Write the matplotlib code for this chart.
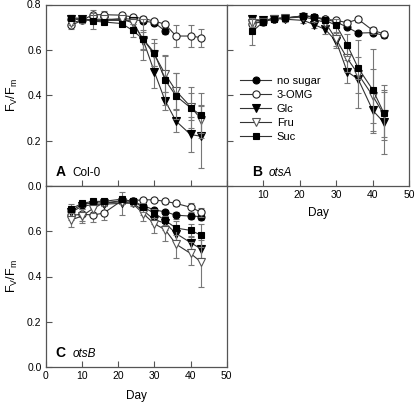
import numpy as np
import matplotlib
matplotlib.use("Agg")
import matplotlib.pyplot as plt
from matplotlib.lines import Line2D

plt.rcParams['font.family'] = ['Liberation Sans', 'DejaVu Sans']
plt.rcParams['mathtext.fontset'] = 'custom'
plt.rcParams['mathtext.rm'] = 'Liberation Sans'

nan = np.nan
days = [7, 10, 13, 16, 21, 24, 27, 30, 33, 36, 40, 43]
series = ["no sugar", "3-OMG", "Glc", "Fru", "Suc"]

# Panel A: Col-0
A_nosugar = [0.735, 0.735, 0.73, 0.73, 0.738, 0.735, 0.727, 0.72, 0.683, nan, nan, nan]
A_omg     = [0.708, 0.73, 0.755, 0.755, 0.753, 0.745, 0.738, 0.727, 0.713, 0.661, 0.661, 0.654]
A_glc     = [0.735, 0.735, 0.73, 0.73, 0.73, 0.728, 0.64, 0.504, 0.375, 0.286, 0.227, 0.219]
A_fru     = [0.72, 0.73, 0.735, 0.735, 0.735, 0.72, 0.645, 0.58, 0.493, 0.419, 0.35, 0.293]
A_suc     = [0.742, 0.738, 0.727, 0.723, 0.716, 0.686, 0.646, 0.587, 0.467, 0.397, 0.345, 0.311]
A_nosugar_err = [0.01, 0.01, 0.01, 0.01, 0.01, 0.01, 0.01, 0.01, 0.015, nan, nan, nan]
A_omg_err     = [0.015, 0.01, 0.02, 0.015, 0.01, 0.01, 0.01, 0.01, 0.01, 0.05, 0.05, 0.04]
A_glc_err     = [0.01, 0.01, 0.01, 0.01, 0.01, 0.015, 0.04, 0.07, 0.04, 0.05, 0.075, 0.14]
A_fru_err     = [0.01, 0.01, 0.01, 0.01, 0.01, 0.02, 0.09, 0.05, 0.08, 0.08, 0.06, 0.06]
A_suc_err     = [0.01, 0.01, 0.035, 0.01, 0.01, 0.03, 0.04, 0.06, 0.11, 0.1, 0.09, 0.1]

# Panel B: otsA
B_nosugar = [0.73, 0.73, 0.738, 0.74, 0.75, 0.745, 0.735, 0.723, 0.70, 0.674, 0.676, 0.664]
B_omg     = [0.715, 0.725, 0.738, 0.74, 0.75, 0.745, 0.735, 0.73, 0.72, 0.735, 0.686, 0.671]
B_glc     = [0.735, 0.73, 0.738, 0.735, 0.73, 0.711, 0.69, 0.637, 0.504, 0.471, 0.333, 0.281]
B_fru     = [0.72, 0.725, 0.738, 0.74, 0.745, 0.735, 0.72, 0.646, 0.563, 0.493, 0.397, 0.316]
B_suc     = [0.681, 0.723, 0.738, 0.74, 0.75, 0.745, 0.73, 0.708, 0.622, 0.52, 0.424, 0.323]
B_nosugar_err = [0.01, 0.01, 0.01, 0.01, 0.01, 0.01, 0.01, 0.01, 0.01, 0.01, 0.01, 0.01]
B_omg_err     = [0.02, 0.015, 0.01, 0.01, 0.01, 0.01, 0.01, 0.01, 0.01, 0.01, 0.015, 0.01]
B_glc_err     = [0.01, 0.01, 0.01, 0.01, 0.01, 0.015, 0.02, 0.03, 0.05, 0.06, 0.1, 0.14]
B_fru_err     = [0.02, 0.01, 0.01, 0.01, 0.01, 0.01, 0.01, 0.03, 0.06, 0.15, 0.12, 0.1]
B_suc_err     = [0.06, 0.01, 0.01, 0.01, 0.01, 0.01, 0.01, 0.03, 0.05, 0.05, 0.18, 0.12]

# Panel C: otsB
C_nosugar = [0.69, 0.718, 0.726, 0.725, 0.735, 0.732, 0.713, 0.694, 0.686, 0.671, 0.667, 0.665]
C_omg     = [0.67, 0.675, 0.672, 0.68, 0.735, 0.735, 0.739, 0.739, 0.732, 0.723, 0.706, 0.684]
C_glc     = [0.684, 0.71, 0.718, 0.72, 0.723, 0.725, 0.691, 0.651, 0.636, 0.59, 0.55, 0.521]
C_fru     = [0.65, 0.667, 0.70, 0.725, 0.73, 0.723, 0.677, 0.633, 0.607, 0.543, 0.502, 0.463]
C_suc     = [0.699, 0.723, 0.732, 0.732, 0.742, 0.732, 0.706, 0.68, 0.648, 0.614, 0.604, 0.582]
C_nosugar_err = [0.015, 0.01, 0.01, 0.01, 0.01, 0.01, 0.01, 0.01, 0.01, 0.015, 0.015, 0.015]
C_omg_err     = [0.02, 0.03, 0.03, 0.03, 0.01, 0.01, 0.01, 0.01, 0.01, 0.01, 0.02, 0.02]
C_glc_err     = [0.02, 0.01, 0.01, 0.01, 0.05, 0.01, 0.02, 0.02, 0.03, 0.03, 0.03, 0.04]
C_fru_err     = [0.03, 0.03, 0.02, 0.01, 0.01, 0.01, 0.03, 0.04, 0.05, 0.06, 0.05, 0.11]
C_suc_err     = [0.02, 0.01, 0.01, 0.01, 0.01, 0.01, 0.02, 0.02, 0.02, 0.03, 0.03, 0.05]

panels = {
    "A": ([A_nosugar, A_omg, A_glc, A_fru, A_suc],
          [A_nosugar_err, A_omg_err, A_glc_err, A_fru_err, A_suc_err], "Col-0", False),
    "B": ([B_nosugar, B_omg, B_glc, B_fru, B_suc],
          [B_nosugar_err, B_omg_err, B_glc_err, B_fru_err, B_suc_err], "otsA", True),
    "C": ([C_nosugar, C_omg, C_glc, C_fru, C_suc],
          [C_nosugar_err, C_omg_err, C_glc_err, C_fru_err, C_suc_err], "otsB", True),
}

styles = [
    dict(marker='o', mfc='black', mec='black', ms=5),
    dict(marker='o', mfc='white', mec='#222222', ms=5.2),
    dict(marker='v', mfc='black', mec='black', ms=5.2),
    dict(marker='v', mfc='white', mec='#555555', ms=5.2),
    dict(marker='s', mfc='black', mec='black', ms=4.6),
]

W, H = 415, 409
fig = plt.figure(figsize=(W / 100, H / 100), dpi=100)

def rect(x0, y0, x1, y1):
    return [x0 / W, 1 - y1 / H, (x1 - x0) / W, (y1 - y0) / H]

axA = fig.add_axes(rect(45.7, 4.5, 226.7, 186))
axB = fig.add_axes(rect(226.7, 4.5, 409.3, 186))
axC = fig.add_axes(rect(45.7, 186, 226.7, 367))
axes = {"A": axA, "B": axB, "C": axC}

spine_c = '#555555'
for key, ax in axes.items():
    vals, errs, name, italic = panels[key]
    for i, (v, e) in enumerate(zip(vals, errs)):
        ax.errorbar(days, v, yerr=e, color='#333333', lw=0.8,
                    ecolor='#777777', elinewidth=0.8, capsize=2.2, capthick=0.8,
                    zorder=3 + i, mew=0.8, **styles[i])
    ax.set_xlim(0, 50)
    ax.set_ylim(0, 0.8)
    ax.set_xticks([0, 10, 20, 30, 40, 50])
    ax.set_yticks([0, 0.2, 0.4, 0.6, 0.8])
    ax.tick_params(direction='in', length=4, width=0.8, color=spine_c,
                   labelsize=7.5, pad=3)
    for s in ax.spines.values():
        s.set_color(spine_c)
        s.set_linewidth(0.9)
    lx = 0.14 if key == "B" else 0.055
    ax.text(lx, 0.055, key, transform=ax.transAxes, fontsize=10,
            fontweight='bold', ha='left', va='baseline')
    ax.text(0.23 if key == "B" else 0.15, 0.055, name, transform=ax.transAxes,
            fontsize=8.5, style='italic' if italic else 'normal',
            ha='left', va='baseline')

ylab = r'F$_\mathregular{V}$/F$_\mathregular{m}$'
axA.set_xticklabels([])
axA.set_yticklabels(['0.0', '0.2', '0.4', '0.6', '0.8'])
axA.set_ylabel(ylab, fontsize=9, labelpad=5)

axB.set_yticklabels([])
axB.set_xticklabels(['', '10', '20', '30', '40', '50'])
axB.set_xlabel('Day', fontsize=8.5, labelpad=5)

axC.set_yticklabels(['0.0', '0.2', '0.4', '0.6', ''])
axC.set_xticklabels(['0', '10', '20', '30', '40', '50'])
axC.set_xlabel('Day', fontsize=8.5, labelpad=6)
axC.set_ylabel(ylab, fontsize=9, labelpad=5)

handles = [Line2D([], [], color='#333333', lw=0.8, mew=0.8, **st) for st in styles]
leg = axB.legend(handles, series, loc='upper left', bbox_to_anchor=(0.05, 0.63),
                 frameon=False, fontsize=8, handlelength=2.8, handletextpad=0.5,
                 labelspacing=0.35, borderaxespad=0)

fig.savefig('out.png', dpi=100)
